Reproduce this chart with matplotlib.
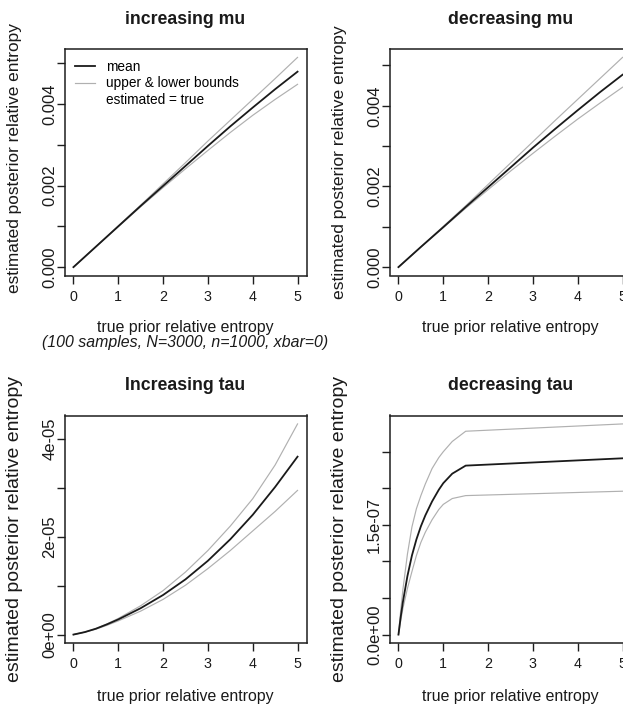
import matplotlib
matplotlib.use("Agg")
import matplotlib.pyplot as plt
from matplotlib import font_manager as fm
from matplotlib.lines import Line2D

# ---------------------------------------------------------------- data
x_mu = [0, 0.5, 1, 1.5, 2, 2.5, 3, 3.5, 4, 4.5, 5]

inc_mu_mean = [0, 0.00050, 0.00100, 0.00150, 0.00199, 0.00248, 0.00297, 0.00345, 0.00391, 0.00436, 0.00479]
inc_mu_upper = [0, 0.00050, 0.00101, 0.00152, 0.00204, 0.00256, 0.00309, 0.00360, 0.00411, 0.00462, 0.00514]
inc_mu_lower = [0, 0.00050, 0.00099, 0.00148, 0.00195, 0.00241, 0.00286, 0.00330, 0.00372, 0.00411, 0.00448]

dec_mu_mean = [0, 0.00050, 0.00099, 0.00149, 0.00198, 0.00247, 0.00296, 0.00343, 0.00389, 0.00434, 0.00477]
dec_mu_upper = [0, 0.00050, 0.00101, 0.00152, 0.00205, 0.00258, 0.00311, 0.00364, 0.00416, 0.00468, 0.00520]
dec_mu_lower = [0, 0.00050, 0.00098, 0.00146, 0.00192, 0.00238, 0.00282, 0.00325, 0.00367, 0.00407, 0.00446]

x_inc_tau = [0, 0.25, 0.5, 0.75, 1, 1.5, 2, 2.5, 3, 3.5, 4, 4.5, 5]
inc_tau_mean = [0, 0.05e-5, 0.12e-5, 0.21e-5, 0.31e-5, 0.54e-5, 0.81e-5, 1.13e-5, 1.51e-5, 1.95e-5, 2.45e-5, 3.02e-5, 3.64e-5]
inc_tau_upper = [0, 0.05e-5, 0.12e-5, 0.22e-5, 0.33e-5, 0.59e-5, 0.90e-5, 1.28e-5, 1.72e-5, 2.22e-5, 2.78e-5, 3.47e-5, 4.31e-5]
inc_tau_lower = [0, 0.05e-5, 0.11e-5, 0.19e-5, 0.28e-5, 0.48e-5, 0.72e-5, 1.01e-5, 1.35e-5, 1.72e-5, 2.12e-5, 2.52e-5, 2.95e-5]

x_dec_tau = [0, 0.05, 0.1, 0.2, 0.3, 0.4, 0.5, 0.6, 0.75, 0.9, 1.0, 1.2, 1.5, 5.0]
dec_tau_mean = [0, 0.24e-7, 0.45e-7, 0.80e-7, 1.08e-7, 1.30e-7, 1.48e-7, 1.63e-7, 1.82e-7, 1.98e-7, 2.07e-7, 2.20e-7, 2.31e-7, 2.41e-7]
dec_tau_upper = [0, 0.33e-7, 0.62e-7, 1.10e-7, 1.47e-7, 1.72e-7, 1.90e-7, 2.06e-7, 2.27e-7, 2.42e-7, 2.50e-7, 2.64e-7, 2.78e-7, 2.88e-7]
dec_tau_lower = [0, 0.19e-7, 0.36e-7, 0.63e-7, 0.86e-7, 1.08e-7, 1.26e-7, 1.40e-7, 1.57e-7, 1.71e-7, 1.78e-7, 1.86e-7, 1.90e-7, 1.96e-7]

x_ticks = [0, 1, 2, 3, 4, 5]
x_tick_labels = ["0", "1", "2", "3", "4", "5"]

mu_yticks = [0, 0.001, 0.002, 0.003, 0.004, 0.005]
mu_ytick_labels = ["0.000", "", "0.002", "", "0.004", ""]

inc_tau_yticks = [0, 1e-5, 2e-5, 3e-5, 4e-5]
inc_tau_ytick_labels = ["0e+00", "", "2e-05", "", "4e-05"]

dec_tau_yticks = [0, 0.5e-7, 1.0e-7, 1.5e-7, 2.0e-7, 2.5e-7]
dec_tau_ytick_labels = ["0.0e+00", "", "", "1.5e-07", "", ""]

titles = ["increasing mu", "decreasing mu", "Increasing tau", "decreasing tau"]
x_label = "true prior relative entropy"
y_label = "estimated posterior relative entropy"
subtitle = "(100 samples, N=3000, n=1000, xbar=0)"
legend_labels = ["mean", "upper & lower bounds", "estimated = true"]

# ---------------------------------------------------------------- fonts
available = {f.name for f in fm.fontManager.ttflist}
if "Liberation Sans Narrow" in available:
    H_FAMILY, H_SCALE = "Liberation Sans Narrow", 1.0
else:
    H_FAMILY, H_SCALE = "Liberation Sans", 0.82
V_FAMILY = "Liberation Sans"

TITLE_SIZE = 15.5 * H_SCALE
LABEL_SIZE = 14 * H_SCALE
XTICK_SIZE = 12.5 * H_SCALE
LEGEND_SIZE = 12 * H_SCALE
YTICK_SIZE = 12

MEAN_COLOR = "#1a1a1a"
BOUND_COLOR = "#b0b0b0"
FRAME_COLOR = "#1e1e1e"
TEXT_COLOR = "#1a1a1a"

W, H, DPI = 623, 708, 100
PT = 72.0 / DPI  # pixels -> points


def px_rect(x0, y0, x1, y1):
    return [x0 / W, 1 - y1 / H, (x1 - x0) / W, (y1 - y0) / H]


fig = plt.figure(figsize=(W / DPI, H / DPI), dpi=DPI)
fig.patch.set_facecolor("white")


def draw_panel(rect, x, mean, upper, lower, yticks, ytick_labels, title,
               ylabel_size, ylabel_shift, xlabel_offset):
    ax = fig.add_axes(rect)
    ax.plot(x, upper, color=BOUND_COLOR, lw=0.85)
    ax.plot(x, lower, color=BOUND_COLOR, lw=0.85)
    ax.plot(x, mean, color=MEAN_COLOR, lw=1.3)

    # 4% padding on each side of the data range
    xlo, xhi = min(x), max(x)
    xp = 0.04 * (xhi - xlo)
    ax.set_xlim(xlo - xp, xhi + xp)
    ylo = min(min(mean), min(upper), min(lower))
    yhi = max(max(mean), max(upper), max(lower))
    yp = 0.04 * (yhi - ylo)
    ax.set_ylim(ylo - yp, yhi + yp)

    ax.set_xticks(x_ticks)
    ax.set_xticklabels(x_tick_labels)
    ax.set_yticks(yticks)
    ax.set_yticklabels(ytick_labels)

    for s in ax.spines.values():
        s.set_color(FRAME_COLOR)
        s.set_linewidth(1.1)
    ax.tick_params(axis="both", direction="out", length=8 * PT, width=1.0,
                   color=FRAME_COLOR)
    ax.tick_params(axis="x", pad=4.5, labelsize=XTICK_SIZE,
                   labelfontfamily=H_FAMILY, labelcolor=TEXT_COLOR)
    ax.tick_params(axis="y", pad=-0.5, labelsize=YTICK_SIZE,
                   labelfontfamily=V_FAMILY, labelcolor=TEXT_COLOR,
                   labelrotation=90)
    for lbl in ax.get_yticklabels():
        lbl.set_verticalalignment("center")

    ax.annotate(title, xy=(0.5, 1), xycoords="axes fraction",
                xytext=(0, 30 * PT), textcoords="offset points",
                ha="center", va="center", fontsize=TITLE_SIZE,
                fontweight="bold", family=H_FAMILY, color=TEXT_COLOR)
    ax.annotate(x_label, xy=(0.5, 0), xycoords="axes fraction",
                xytext=(0, -xlabel_offset * PT), textcoords="offset points",
                ha="center", va="center", fontsize=LABEL_SIZE,
                family=H_FAMILY, color=TEXT_COLOR)
    ax.annotate(y_label, xy=(0, 0.5), xycoords="axes fraction",
                xytext=(-50 * PT, ylabel_shift * PT), textcoords="offset points",
                ha="center", va="center", rotation=90,
                fontsize=ylabel_size, family=V_FAMILY, color=TEXT_COLOR)
    return ax


ax1 = draw_panel(px_rect(64.5, 49, 306.5, 275.5), x_mu,
                 inc_mu_mean, inc_mu_upper, inc_mu_lower,
                 mu_yticks, mu_ytick_labels, titles[0], 12.4, 4, 52)
ax2 = draw_panel(px_rect(389.5, 49, 631.5, 275.5), x_mu,
                 dec_mu_mean, dec_mu_upper, dec_mu_lower,
                 mu_yticks, mu_ytick_labels, titles[1], 12.6, 0, 52)
ax3 = draw_panel(px_rect(64.5, 415.5, 306.5, 643), x_inc_tau,
                 inc_tau_mean, inc_tau_upper, inc_tau_lower,
                 inc_tau_yticks, inc_tau_ytick_labels, titles[2], 14, 0, 54)
ax4 = draw_panel(px_rect(389.5, 415.5, 631.5, 643), x_dec_tau,
                 dec_tau_mean, dec_tau_upper, dec_tau_lower,
                 dec_tau_yticks, dec_tau_ytick_labels, titles[3], 14, 0, 54)

ax1.annotate(subtitle, xy=(0.5, 0), xycoords="axes fraction",
             xytext=(0, -67 * PT), textcoords="offset points",
             ha="center", va="center", fontsize=LABEL_SIZE,
             family=H_FAMILY, style="italic", color=TEXT_COLOR)

handles = [Line2D([], [], color=MEAN_COLOR, lw=1.3),
           Line2D([], [], color=BOUND_COLOR, lw=0.85),
           Line2D([], [], color="white", lw=0.85)]
ax1.legend(handles, legend_labels, loc="upper left",
           bbox_to_anchor=(10 / 242, 1 - 11 / 226.5), frameon=False,
           borderaxespad=0, borderpad=0, handlelength=1.5,
           handletextpad=0.8, labelspacing=0.18,
           prop={"family": H_FAMILY, "size": LEGEND_SIZE})

fig.savefig("out.png", dpi=DPI)
